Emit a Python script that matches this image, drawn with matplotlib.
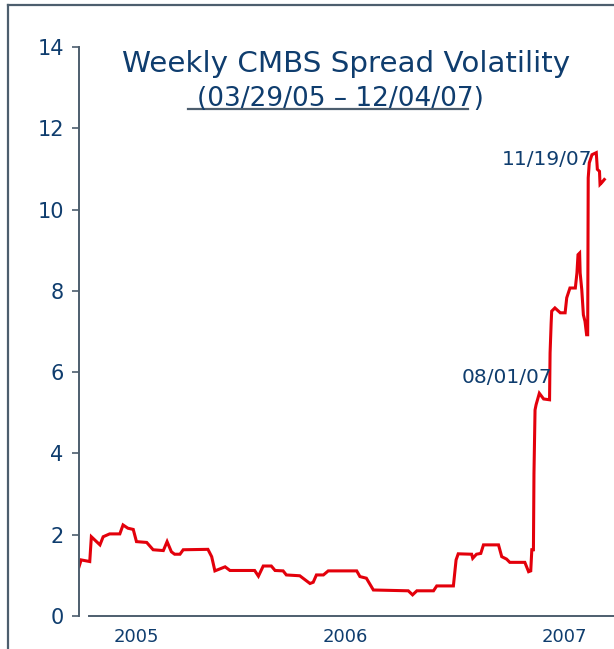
import pandas as pd
import matplotlib
matplotlib.use("Agg")
import matplotlib.pyplot as plt
import matplotlib.dates as mdates
from matplotlib.lines import Line2D


START = pd.Timestamp("2005-03-29")

# days after 03/29/05
DAYS = [
    0, 4, 20, 23, 39, 45, 57, 76, 82, 91,
    101, 107, 126, 138, 157, 164, 172, 178, 188, 194,
    240, 247, 253, 272, 281, 327, 334, 343, 358, 365,
    380, 386, 411, 417, 430, 436, 442, 455, 464, 517,
    523, 535, 548, 613, 621, 629, 660, 666, 697, 702,
    706, 731, 733, 740, 748, 753, 781, 787, 796, 802,
    830, 837, 841, 843, 846, 847, 849, 851, 857, 865,
    876, 877, 879, 880, 886, 896, 905, 908, 914, 924,
    927, 929, 932, 933, 936, 939, 942, 945, 947, 948,
    950, 955, 963, 965, 969, 970, 973, 978,
]

VOLATILITY = [
    1.21, 1.38, 1.34, 1.95, 1.75, 1.95, 2.02, 2.02, 2.24, 2.16,
    2.13, 1.83, 1.81, 1.63, 1.61, 1.83, 1.58, 1.52, 1.52, 1.63,
    1.64, 1.46, 1.11, 1.21, 1.12, 1.12, 0.98, 1.23, 1.23, 1.12,
    1.11, 1.01, 0.99, 0.93, 0.80, 0.83, 1.01, 1.01, 1.11, 1.11,
    0.97, 0.93, 0.64, 0.62, 0.52, 0.62, 0.62, 0.74, 0.74, 1.38,
    1.53, 1.52, 1.42, 1.52, 1.54, 1.75, 1.75, 1.46, 1.40, 1.32,
    1.32, 1.09, 1.11, 1.63, 1.63, 3.50, 5.07, 5.20, 5.48, 5.34,
    5.32, 6.47, 7.21, 7.50, 7.58, 7.46, 7.46, 7.83, 8.07, 8.07,
    8.44, 8.89, 8.93, 8.44, 8.03, 7.41, 7.25, 6.92, 6.92, 10.78,
    11.15, 11.35, 11.40, 10.99, 10.94, 10.62, 10.66, 10.74,
]

YEAR_LABELS = ["2005", "2006", "2007"]
YEAR_DAYS = [106, 495, 903]

NOTES = ["08/01/07", "11/19/07"]
NOTE_DAYS = [881, 955]
NOTE_VALUES = [5.86, 11.23]

NAVY = "#0f3d6e"
AXIS = "#4d5e6e"
RED = "#e3000b"


def to_date(days):
    return START + pd.to_timedelta(days, unit="D")


def to_num(days):
    return mdates.date2num(to_date(days))


fig = plt.figure(figsize=(6.14, 6.49), dpi=100)
W, H = 614, 649

# outer frame of the slide
fig.add_artist(Line2D([8 / W, 8 / W], [0, 1 - 5 / H], color=AXIS, lw=1.6))
fig.add_artist(Line2D([8 / W, 1], [1 - 5 / H, 1 - 5 / H], color=AXIS, lw=1.6))

ax = fig.add_axes([79 / W, 1 - 616 / H, (614 - 79) / W, (616 - 47) / H])

ax.plot(to_date(pd.Series(DAYS)), VOLATILITY, color=RED, lw=2.2,
        solid_joinstyle="miter")

ax.set_ylim(0, 14)
ax.set_xlim(to_num(0), to_num(996))
ax.set_yticks(range(0, 15, 2))
ax.set_xticks(to_num(pd.Series(YEAR_DAYS)))
ax.set_xticklabels(YEAR_LABELS)

for side in ["top", "right"]:
    ax.spines[side].set_visible(False)
ax.spines["left"].set_color(AXIS)
ax.spines["bottom"].set_color(AXIS)
ax.spines["left"].set_linewidth(1.4)
ax.spines["bottom"].set_linewidth(1.4)
ax.spines["bottom"].set_bounds(to_num(18), to_num(996))

ax.tick_params(axis="y", colors=AXIS, labelcolor=NAVY, labelsize=15,
               length=5, width=1.2, pad=6)
ax.tick_params(axis="x", labelcolor=NAVY, labelsize=13, length=0, pad=9)

for note, d, v in zip(NOTES, NOTE_DAYS, NOTE_VALUES):
    ax.text(to_num(d), v, note, color=NAVY, fontsize=14.5,
            ha="right", va="center")

fig.text(346 / W, 1 - 72 / H, "Weekly CMBS Spread Volatility",
         color=NAVY, fontsize=21.2, ha="center", va="baseline")
fig.text(340 / W, 1 - 106 / H, "(03/29/05 \u2013 12/04/07)",
         color=NAVY, fontsize=19, ha="center", va="baseline")
fig.add_artist(Line2D([188 / W, 468 / W], [1 - 108.5 / H, 1 - 108.5 / H],
                      color=AXIS, lw=1.6))

fig.savefig("out.png", dpi=100)
